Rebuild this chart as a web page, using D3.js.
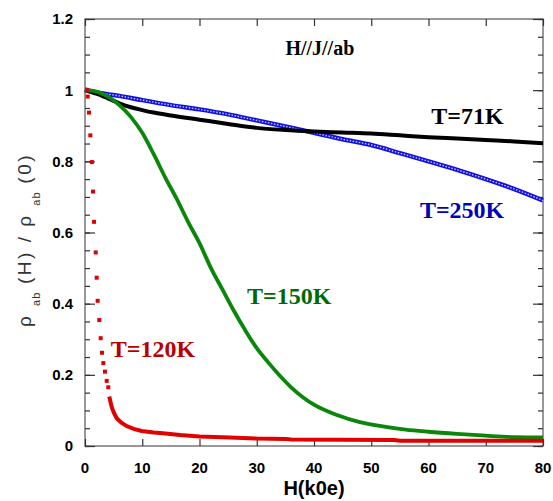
<!DOCTYPE html>
<html><head><meta charset="utf-8">
<script src="https://cdn.jsdelivr.net/npm/d3@7"></script>
<style>body{margin:0;background:#fff}svg{display:block}</style>
</head><body>
<script>
// ---- data ----
const h71 = [0,1,2,3,4,5,6,8,10,12,15,20,25,30,35,40,45,50,55,60,65,70,75,80];
const v71 = [1.0,0.995,0.99,0.984,0.977,0.97,0.963,0.952,0.944,0.937,0.929,0.917,0.905,0.894,0.888,0.884,0.881,0.878,0.873,0.868,0.864,0.86,0.856,0.851];

const h250 = [0,1,6,10,15,20,25,30,35,40,45,50,55,60,65,70,75,80];
const v250 = [1.002,0.997,0.984,0.972,0.958,0.946,0.932,0.915,0.898,0.88,0.862,0.846,0.823,0.8,0.776,0.75,0.722,0.69];

const h150 = [0,2,4,6,8,10,12,14,16,18,20,22,24,26,28,30,32,34,36,38,40,44,48,52,56,60,65,70,75,80];
const v150 = [1.0,0.996,0.982,0.958,0.925,0.88,0.82,0.755,0.695,0.63,0.57,0.5,0.44,0.38,0.325,0.275,0.235,0.198,0.165,0.138,0.116,0.087,0.067,0.055,0.046,0.04,0.034,0.029,0.025,0.024];

const h120sparse = [0.35,0.47,0.7,0.93,1.2,1.4,1.57,1.87,2.04,2.21,2.5,2.74,2.97,3.2,3.49,3.79,4.07];
const v120sparse = [1.0,0.982,0.937,0.873,0.798,0.715,0.63,0.544,0.473,0.408,0.354,0.303,0.262,0.233,0.209,0.183,0.165];
const h120dense = [4.24,4.66,5.0,5.54,6.3,7.28,8.5,9.9,12,13.6,16.6,20,25.3,30,35,36,54,55,80];
const v120dense = [0.139,0.11,0.095,0.078,0.066,0.056,0.048,0.042,0.038,0.036,0.031,0.027,0.024,0.021,0.02,0.018,0.017,0.015,0.015];

const xTicks = [0,10,20,30,40,50,60,70,80];
const yTicks = [0,0.2,0.4,0.6,0.8,1,1.2];
const yTickLabels = ["0","0.2","0.4","0.6","0.8","1","1.2"];

const labels = [
  {text:"H//J//ab", x:35.0, y:1.1, color:"#000"},
  {text:"T=71K", x:60.5, y:0.905, color:"#000"},
  {text:"T=250K", x:58.5, y:0.64, color:"#0000b8"},
  {text:"T=150K", x:28.3, y:0.40, color:"#006a00"},
  {text:"T=120K", x:4.5, y:0.249, color:"#b80000"}
];

// ---- chart ----
const W = 553, H = 501;
const svg = d3.select("body").append("svg").attr("width", W).attr("height", H);
const x = d3.scaleLinear().domain([0,80]).range([85,543]);
const y = d3.scaleLinear().domain([0,1.2]).range([446,19]);

const axisColor = "#777";
const tickFont = "'Liberation Sans Narrow','Arial Narrow',Arial,'Liberation Sans',sans-serif";

// frame
svg.append("rect").attr("x",85).attr("y",19).attr("width",458).attr("height",427)
  .attr("fill","none").attr("stroke",axisColor).attr("stroke-width",1.5);

// axes with inward ticks
const minorY = d3.range(0,1.2001,0.05);
const gL = svg.append("g").attr("transform","translate(85,0)")
  .call(d3.axisRight(y).tickValues(minorY).tickSize(5).tickFormat(""));
const gL2 = svg.append("g").attr("transform","translate(85,0)")
  .call(d3.axisRight(y).tickValues(yTicks).tickSize(10).tickFormat(""));
const gR = svg.append("g").attr("transform","translate(543,0)")
  .call(d3.axisLeft(y).tickValues(minorY).tickSize(5).tickFormat(""));
const gR2 = svg.append("g").attr("transform","translate(543,0)")
  .call(d3.axisLeft(y).tickValues(yTicks).tickSize(10).tickFormat(""));
const gB = svg.append("g").attr("transform","translate(0,446)")
  .call(d3.axisTop(x).tickValues(xTicks).tickSize(7).tickFormat(""));
const gT = svg.append("g").attr("transform","translate(0,19)")
  .call(d3.axisBottom(x).tickValues(xTicks).tickSize(7).tickFormat(""));
[gL,gL2,gR,gR2,gB,gT].forEach(g=>{
  g.select(".domain").remove();
  g.selectAll(".tick line").attr("stroke","#333").attr("stroke-width",1.2);
});

// tick labels
svg.append("g").selectAll("text").data(yTicks).join("text")
  .attr("x",73).attr("y",d=>y(d)).attr("dy","0.36em")
  .attr("text-anchor","end").attr("font-family",tickFont).attr("font-weight","bold")
  .attr("font-size",15).attr("fill","#000")
  .text((d,i)=>yTickLabels[i]);
svg.append("g").selectAll("text").data(xTicks).join("text")
  .attr("x",d=>x(d)).attr("y",473)
  .attr("text-anchor","middle").attr("font-family",tickFont).attr("font-weight","bold")
  .attr("font-size",15).attr("fill","#000")
  .text(d=>d);

// axis titles
svg.append("text").attr("x",314).attr("y",495).attr("text-anchor","middle")
  .attr("font-family",tickFont).attr("font-weight","bold").attr("font-size",20)
  .attr("fill","#000").text("H(k0e)");

const yt = svg.append("text").attr("transform","translate(31,240) rotate(-90)")
  .attr("text-anchor","middle").attr("font-family","Arial,'Liberation Sans',sans-serif")
  .attr("font-size",19).attr("fill","#333").attr("letter-spacing",2.5);
yt.append("tspan").text("ρ ");
yt.append("tspan").attr("font-size",11).attr("letter-spacing",1).attr("dy",9).text("ab");
yt.append("tspan").attr("dy",-9).text(" (H) / ρ ");
yt.append("tspan").attr("font-size",11).attr("letter-spacing",1).attr("dy",9).text("ab");
yt.append("tspan").attr("dy",-9).text(" (0)");

// curves
const line = d3.line().x(d=>x(d[0])).y(d=>y(d[1])).curve(d3.curveMonotoneX);
const zip = (a,b)=>a.map((v,i)=>[v,b[i]]);

const plot = svg.append("g");
// T=250K : open square markers look
plot.append("path").datum(zip(h250,v250)).attr("d",line)
  .attr("fill","none").attr("stroke","#1010e0").attr("stroke-width",4.5);
plot.append("path").datum(zip(h250,v250)).attr("d",line)
  .attr("fill","none").attr("stroke","#c8c8ff").attr("stroke-width",1.4)
  .attr("stroke-dasharray","1.5,1.6");
// T=71K
plot.append("path").datum(zip(h71,v71)).attr("d",line)
  .attr("fill","none").attr("stroke","#000").attr("stroke-width",4);
// T=150K
plot.append("path").datum(zip(h150,v150)).attr("d",line)
  .attr("fill","none").attr("stroke","#0a860a").attr("stroke-width",3.8);
// T=120K
plot.append("path").datum(zip(h120dense,v120dense)).attr("d",d3.line().x(d=>x(d[0])).y(d=>y(d[1])))
  .attr("fill","none").attr("stroke","#e00000").attr("stroke-width",4);
plot.append("g").selectAll("rect").data(zip(h120sparse,v120sparse)).join("rect")
  .attr("x",d=>x(d[0])-2).attr("y",d=>y(d[1])-2).attr("width",4).attr("height",4)
  .attr("fill","#e00000");

// annotations
svg.append("g").selectAll("text").data(labels).join("text")
  .attr("x",d=>x(d.x)).attr("y",d=>y(d.y))
  .attr("font-family","'Liberation Serif','Times New Roman',serif").attr("font-weight","bold")
  .attr("font-size",d=>d.text==="H//J//ab"?20:24).attr("fill",d=>d.color)
  .text(d=>d.text);
</script>
</body></html>
